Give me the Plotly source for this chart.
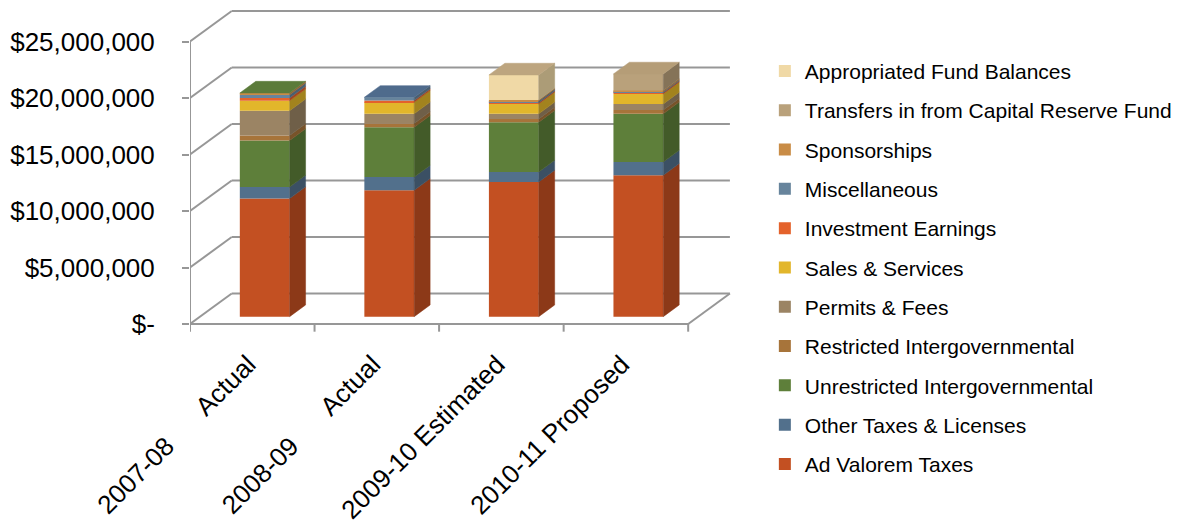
import plotly.graph_objects as go

# Fiscal years on the category axis
tick_labels = [
    "2007-08" + "\u00a0" * 6 + "Actual",
    "2008-09" + "\u00a0" * 6 + "Actual",
    "2009-10 Estimated",
    "2010-11 Proposed",
]

# Revenue sources, bottom of the stack first
series_names = [
    "Ad Valorem Taxes",
    "Other Taxes & Licenses",
    "Unrestricted Intergovernmental",
    "Restricted Intergovernmental",
    "Permits & Fees",
    "Sales & Services",
    "Investment Earnings",
    "Miscellaneous",
    "Sponsorships",
    "Transfers in from Capital Reserve Fund",
    "Appropriated Fund Balances",
]

ad_valorem = [10_450_000, 11_180_000, 11_920_000, 12_510_000]
other_taxes = [1_020_000, 1_170_000, 880_000, 1_170_000]
unrestricted = [4_120_000, 4_410_000, 4_410_000, 4_270_000]
restricted = [440_000, 330_000, 290_000, 330_000]
permits_fees = [2_200_000, 860_000, 450_000, 550_000]
sales_services = [880_000, 1_020_000, 880_000, 880_000]
investment = [240_000, 150_000, 100_000, 100_000]
miscellaneous = [290_000, 290_000, 150_000, 100_000]
sponsorships = [150_000, 0, 100_000, 100_000]
transfers = [0, 0, 0, 1_470_000]
appropriated = [0, 0, 2_210_000, 0]

series_values = [
    ad_valorem, other_taxes, unrestricted, restricted, permits_fees,
    sales_services, investment, miscellaneous, sponsorships, transfers,
    appropriated,
]

series_colors = [
    "#C35022", "#52708C", "#5E7F3A", "#A7743A", "#9B8464", "#E2B62B",
    "#E4622B", "#67849C", "#C98C46", "#B9A17B", "#F0D9A6",
]
top_face_colors = ["#5B7B3A", "#4F6B8C", "#BDA57F", "#B59D77"]

y_tick_vals = [0, 5_000_000, 10_000_000, 15_000_000, 20_000_000, 25_000_000]
y_tick_text = ["$-", "$5,000,000", "$10,000,000", "$15,000,000",
               "$20,000,000", "$25,000,000"]

# 3-D projection constants (x in category units, y in dollars)
X0, X1 = -0.5, 3.5            # front edge of the floor
DEPTH_X, DEPTH_Y = 0.335, 2_700_000   # front-to-back wall offset
BAR_DX, BAR_BASE = 0.10, 650_000      # bar front face position inside the box
BAR_W = 0.40
SIDE_DX, SIDE_DY = 0.128, 1_035_000   # bar depth
TICK_LEN = 680_000
GRID = dict(color="#979797", width=2)
FONT = "Liberation Sans, Arial, sans-serif"


def shade(hex_color, k):
    r, g, b = (int(hex_color[i:i + 2], 16) for i in (1, 3, 5))
    return "#%02x%02x%02x" % (int(r * k), int(g * k), int(b * k))


fig = go.Figure()
x_pos = list(range(len(tick_labels)))
bottom = [BAR_BASE] * len(x_pos)
n_series = len(series_names)

for idx, (name, vals, color) in enumerate(
        zip(series_names, series_values, series_colors)):
    fig.add_bar(
        x=[p + BAR_DX for p in x_pos], y=vals, base=bottom, width=BAR_W,
        marker=dict(color=color, line=dict(width=0)),
        name=name, legendgroup=name, legendrank=n_series - idx,
        hoverinfo="skip",
    )
    sx, sy = [], []
    for p, v, b0 in zip(x_pos, vals, bottom):
        if v <= 0:
            continue
        xr = p + BAR_DX + BAR_W / 2
        sx += [xr, xr + SIDE_DX, xr + SIDE_DX, xr, xr, None]
        sy += [b0, b0 + SIDE_DY, b0 + v + SIDE_DY, b0 + v, b0, None]
    side = shade(color, 0.72)
    fig.add_scatter(
        x=sx, y=sy, mode="lines", fill="toself", fillcolor=side,
        line=dict(color=side, width=0.5), showlegend=False, hoverinfo="skip",
    )
    bottom = [b + v for b, v in zip(bottom, vals)]

# top faces of the columns
for p, top, color in zip(x_pos, bottom, top_face_colors):
    xl = p + BAR_DX - BAR_W / 2
    xr = p + BAR_DX + BAR_W / 2
    fig.add_scatter(
        x=[xl, xl + SIDE_DX, xr + SIDE_DX, xr, xl],
        y=[top, top + SIDE_DY, top + SIDE_DY, top, top],
        mode="lines", fill="toself", fillcolor=color,
        line=dict(color=color, width=0.5), showlegend=False, hoverinfo="skip",
    )

shapes = []
# back wall gridlines and side wall diagonals
for v in y_tick_vals:
    shapes.append(dict(type="line", xref="x", yref="y", layer="below",
                       x0=X0 + DEPTH_X, y0=v + DEPTH_Y,
                       x1=X1 + DEPTH_X, y1=v + DEPTH_Y, line=GRID))
    shapes.append(dict(type="line", xref="x", yref="y", layer="below",
                       x0=X0, y0=v, x1=X0 + DEPTH_X, y1=v + DEPTH_Y, line=GRID))
# front value axis, floor front edge and right floor edge
shapes.append(dict(type="line", xref="x", yref="y", layer="below",
                   x0=X0, y0=0, x1=X0, y1=y_tick_vals[-1], line=GRID))
shapes.append(dict(type="line", xref="x", yref="y", layer="below",
                   x0=X0, y0=0, x1=X1, y1=0, line=GRID))
shapes.append(dict(type="line", xref="x", yref="y", layer="below",
                   x0=X1, y0=0, x1=X1 + DEPTH_X, y1=DEPTH_Y, line=GRID))
# category boundary tick marks
for k in range(len(x_pos) + 1):
    xb = X0 + k
    shapes.append(dict(type="line", xref="x", yref="y", layer="below",
                       x0=xb, y0=0, x1=xb, y1=-TICK_LEN, line=GRID))

fig.update_layout(
    width=1183, height=529,
    margin=dict(l=190, r=445, t=5, b=197, autoexpand=False),
    paper_bgcolor="white", plot_bgcolor="white",
    font=dict(family=FONT, color="#000000"),
    barmode="overlay",
    shapes=shapes,
    showlegend=True,
    legend=dict(
        x=1.049, y=0.86, xanchor="left", yanchor="top",
        traceorder="grouped", tracegroupgap=9, maxheight=520,
        font=dict(size=21, family=FONT, color="#000000"),
        bgcolor="rgba(0,0,0,0)",
    ),
    xaxis=dict(
        range=[-0.5, 3.9], showgrid=False, zeroline=False, showline=False,
        automargin=False,
        tickmode="array", tickvals=x_pos, ticktext=tick_labels,
        tickangle=-45, ticks="", ticklabelstandoff=11, ticklabelshift=-4,
        tickfont=dict(size=26, family=FONT),
    ),
    yaxis=dict(
        range=[-708_000, 28_230_000], showgrid=False, zeroline=False,
        showline=False, automargin=False,
        tickmode="array", tickvals=y_tick_vals,
        ticktext=y_tick_text, ticks="outside", ticklen=7, tickwidth=2,
        tickcolor="#979797", ticklabelstandoff=22,
        tickfont=dict(size=26, family=FONT),
    ),
)

fig.write_html("out.html")
